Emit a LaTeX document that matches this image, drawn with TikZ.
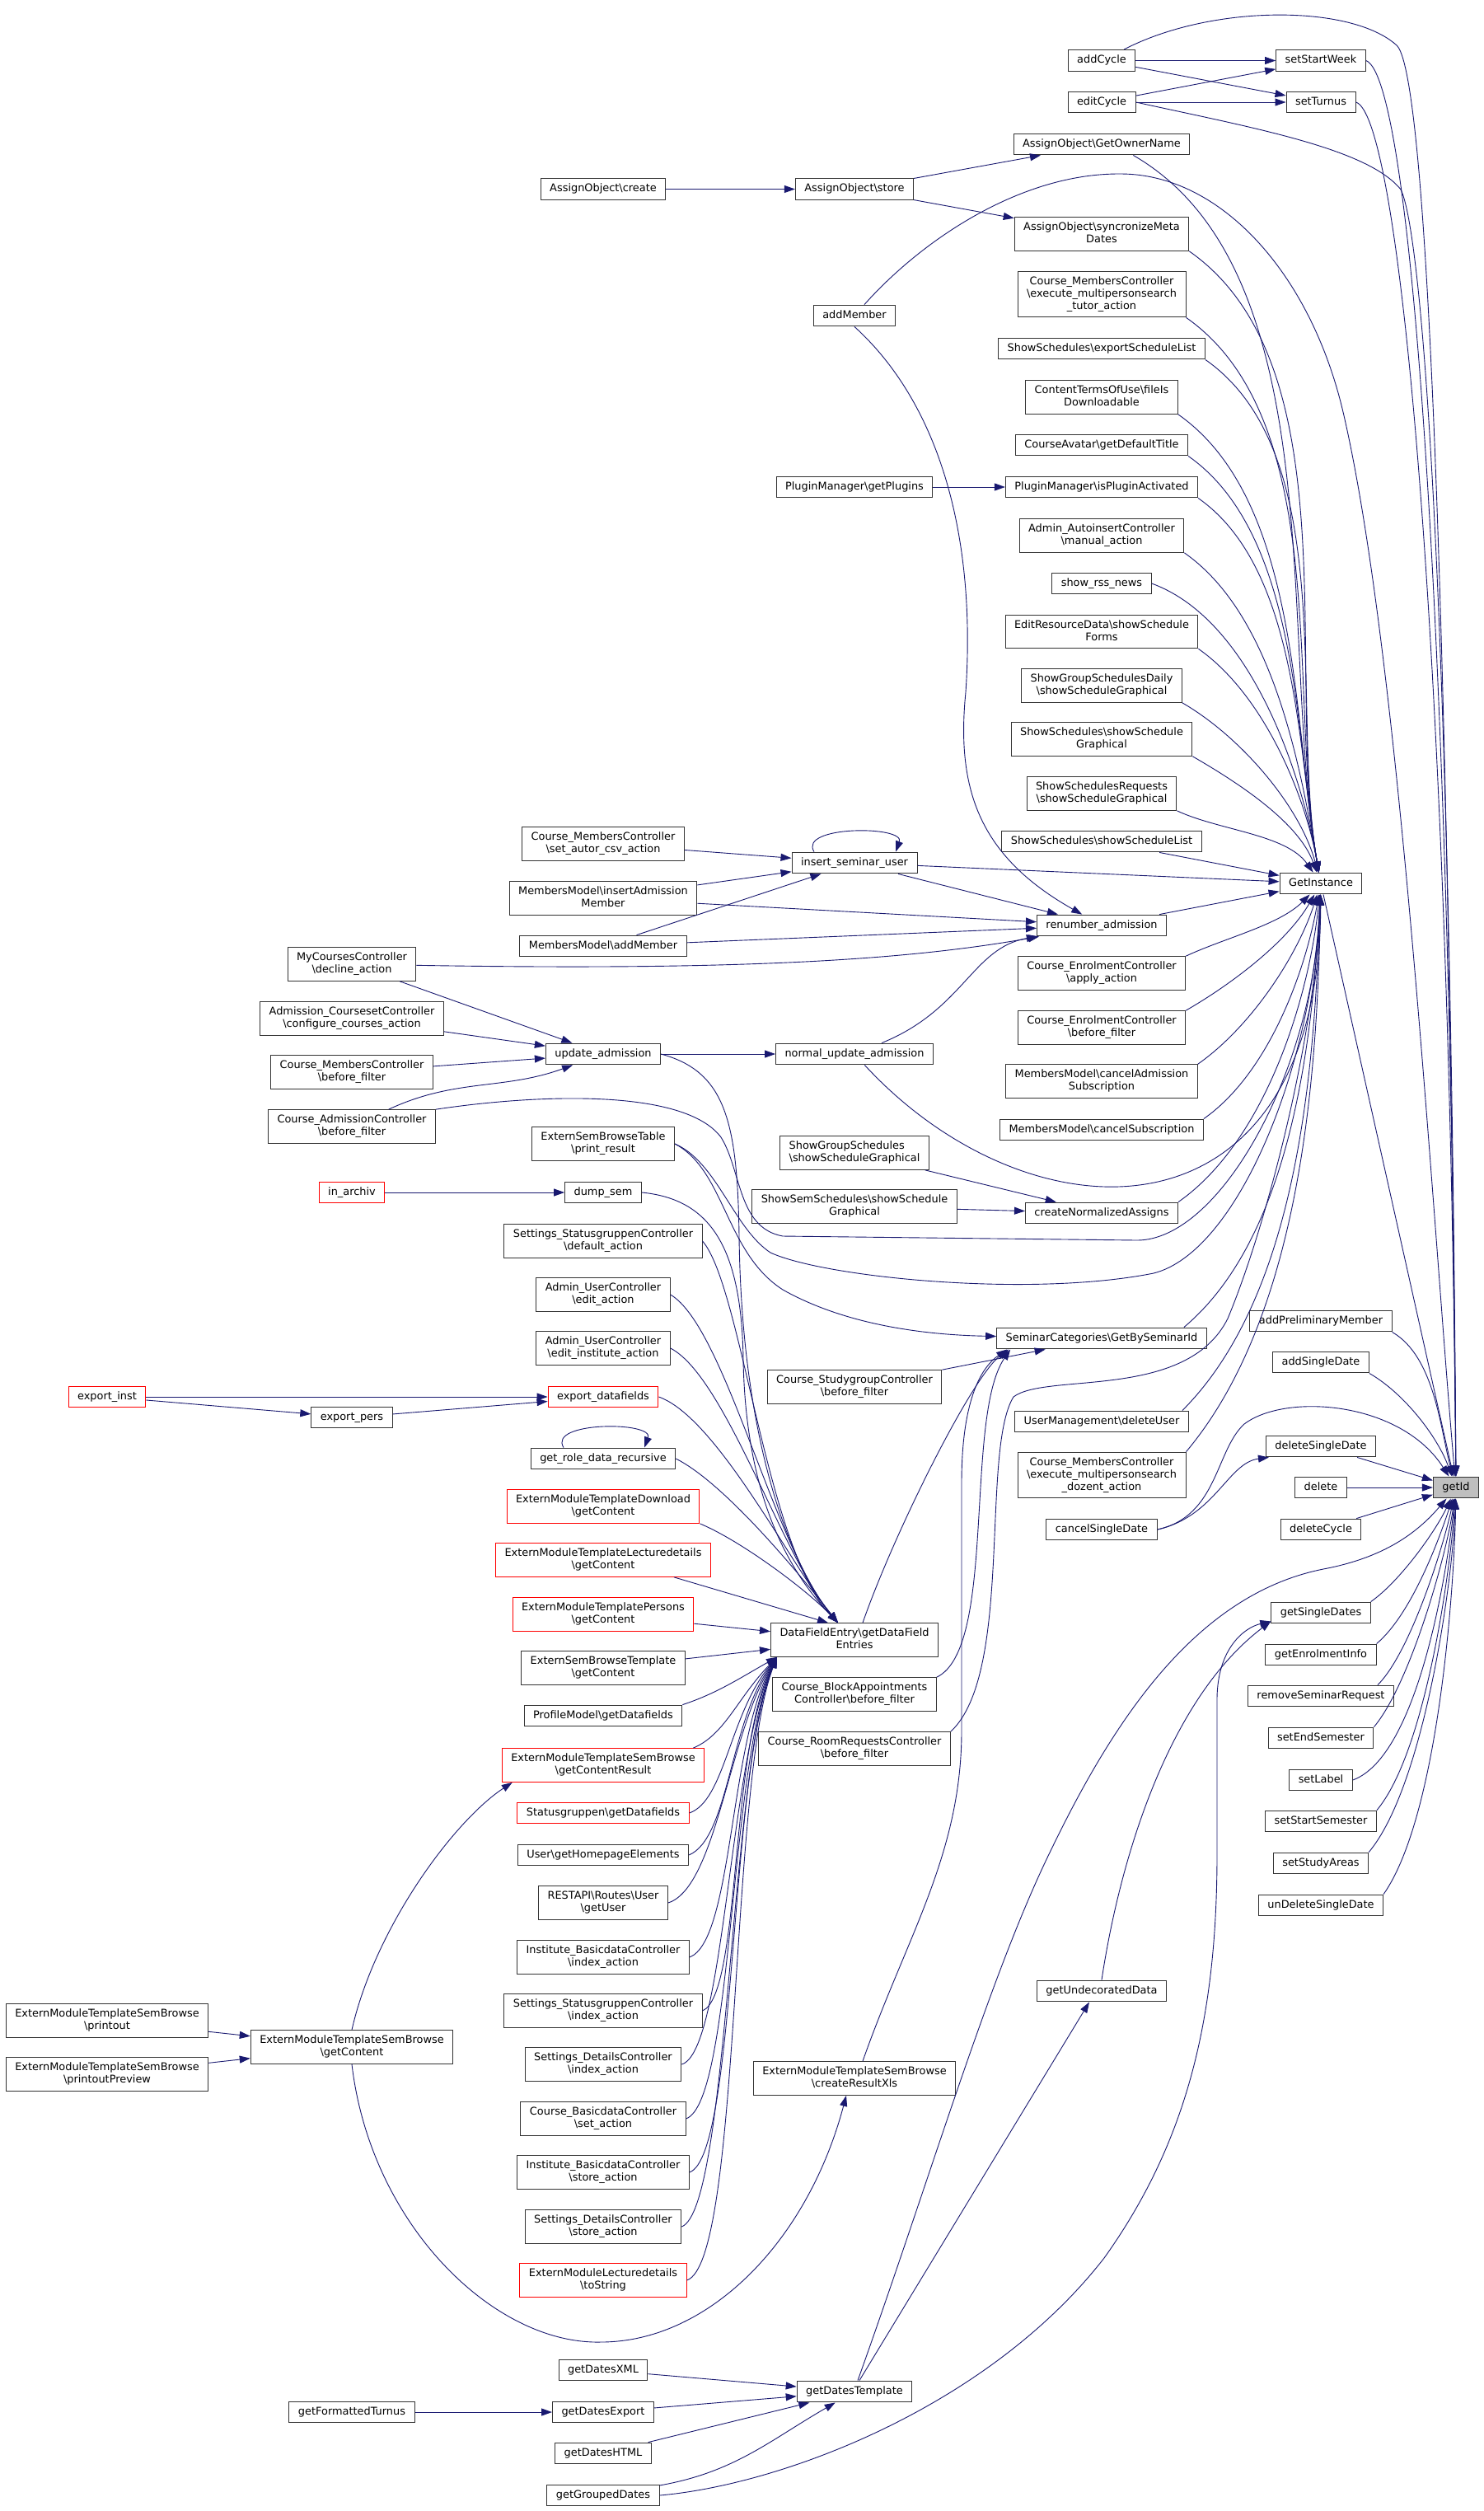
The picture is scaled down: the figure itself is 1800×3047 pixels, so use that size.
\documentclass[tikz,border=0pt]{standalone}
\usepackage{fontspec}
\setmainfont{DejaVu Sans}
\usetikzlibrary{arrows.meta}
\definecolor{callblue}{HTML}{191970}
\newcommand{\bsl}{\textbackslash}
\newcommand{\dxstrut}{\rule[-3.3pt]{0pt}{13.3pt}}
\begin{document}
\begin{tikzpicture}[x=1pt,y=1pt,
    fn/.style={draw=black!80, fill=white, line width=1pt, inner xsep=11pt, inner ysep=6.3pt,
      align=center, font=\fontsize{12.9}{15}\selectfont,
      execute at begin node=\dxstrut, execute at end node=\dxstrut},
    fnred/.style={fn, draw=red},
    fnmain/.style={fn, fill=black!25},
    calls/.style={draw=callblue, line width=0.9pt, -{Triangle[length=13pt,width=9pt]}}]
  \useasboundingbox (0,0) rectangle (1800,-3047);
  \fill[white] (0,0) rectangle (1800,-3047);

  % right columns
  \node[fnmain] (gid) at (1767,-1805) {getId};
  \node[fn] (ssw) at (1603,-73.5) {setStartWeek};
  \node[fn] (stu) at (1603,-124) {setTurnus};
  \node[fn] (gi) at (1603,-1072) {GetInstance};
  \node[fn] (apm) at (1603,-1603) {addPreliminaryMember};
  \node[fn] (asd) at (1603,-1653) {addSingleDate};
  \node[fn] (dsd) at (1603,-1755) {deleteSingleDate};
  \node[fn] (del) at (1603,-1805) {delete};
  \node[fn] (dcy) at (1603,-1856) {deleteCycle};
  \node[fn] (gsd) at (1603,-1957) {getSingleDates};
  \node[fn] (gei) at (1603,-2008) {getEnrolmentInfo};
  \node[fn] (rsr) at (1603,-2058) {removeSeminarRequest};
  \node[fn] (ses) at (1603,-2109) {setEndSemester};
  \node[fn] (slab) at (1603,-2160) {setLabel};
  \node[fn] (sss) at (1603,-2210) {setStartSemester};
  \node[fn] (ssa) at (1603,-2261) {setStudyAreas};
  \node[fn] (uds) at (1603,-2312) {unDeleteSingleDate};

  \node[fn] (ac) at (1337,-73.5) {addCycle};
  \node[fn] (ec) at (1337,-124) {editCycle};
  \node[fn] (gon) at (1337,-175) {AssignObject\bsl GetOwnerName};
  \node[fn] (sync) at (1337,-284) {AssignObject\bsl syncronizeMeta\\Dates};
  \node[fn] (mtut) at (1337,-357) {Course\_MembersController\\\bsl execute\_multipersonsearch\\\_tutor\_action};
  \node[fn] (esl) at (1337,-423) {ShowSchedules\bsl exportScheduleList};
  \node[fn] (ftou) at (1337,-482) {ContentTermsOfUse\bsl fileIs\\Downloadable};
  \node[fn] (cadt) at (1337,-540) {CourseAvatar\bsl getDefaultTitle};
  \node[fn] (pmia) at (1337,-591) {PluginManager\bsl isPluginActivated};
  \node[fn] (aiman) at (1337,-650) {Admin\_AutoinsertController\\\bsl manual\_action};
  \node[fn] (rss) at (1337,-708) {show\_rss\_news};
  \node[fn] (ersf) at (1337,-766.5) {EditResourceData\bsl showSchedule\\Forms};
  \node[fn] (sgsd) at (1337,-832) {ShowGroupSchedulesDaily\\\bsl showScheduleGraphical};
  \node[fn] (sssg) at (1337,-897) {ShowSchedules\bsl showSchedule\\Graphical};
  \node[fn] (ssrg) at (1337,-963) {ShowSchedulesRequests\\\bsl showScheduleGraphical};
  \node[fn] (ssl) at (1337,-1021) {ShowSchedules\bsl showScheduleList};
  \node[fn] (ren) at (1337,-1123) {renumber\_admission};
  \node[fn] (ceapp) at (1337,-1181) {Course\_EnrolmentController\\\bsl apply\_action};
  \node[fn] (cebf) at (1337,-1247) {Course\_EnrolmentController\\\bsl before\_filter};
  \node[fn] (mmcas) at (1337,-1312) {MembersModel\bsl cancelAdmission\\Subscription};
  \node[fn] (mmcs) at (1337,-1371) {MembersModel\bsl cancelSubscription};
  \node[fn] (cna) at (1337,-1472) {createNormalizedAssigns};
  \node[fn] (gbs) at (1337,-1624) {SeminarCategories\bsl GetBySeminarId};
  \node[fn] (du) at (1337,-1725) {UserManagement\bsl deleteUser};
  \node[fn] (mdoz) at (1337,-1790) {Course\_MembersController\\\bsl execute\_multipersonsearch\\\_dozent\_action};
  \node[fn] (csd) at (1337,-1856) {cancelSingleDate};
  \node[fn] (gud) at (1337,-2416) {getUndecoratedData};

  % middle columns
  \node[fn] (aost) at (1037,-229.5) {AssignObject\bsl store};
  \node[fn] (addm) at (1037,-383) {addMember};
  \node[fn] (pmgp) at (1037,-591) {PluginManager\bsl getPlugins};
  \node[fn] (isu) at (1037,-1047) {insert\_seminar\_user};
  \node[fn] (nua) at (1037,-1279) {normal\_update\_admission};
  \node[fn, align=left] (sgsg) at (1037,-1399) {ShowGroupSchedules\\\bsl showScheduleGraphical};
  \node[fn] (sssched) at (1037,-1464) {ShowSemSchedules\bsl showSchedule\\Graphical};
  \node[fn] (sgbf) at (1037,-1683) {Course\_StudygroupController\\\bsl before\_filter};
  \node[fn] (dfe) at (1037,-1990) {DataFieldEntry\bsl getDataField\\Entries};
  \node[fn] (babf) at (1037,-2056) {Course\_BlockAppointments\\Controller\bsl before\_filter};
  \node[fn] (rrbf) at (1037,-2122) {Course\_RoomRequestsController\\\bsl before\_filter};
  \node[fn] (crx) at (1037,-2522) {ExternModuleTemplateSemBrowse\\\bsl createResultXls};
  \node[fn] (gdt) at (1037,-2902) {getDatesTemplate};

  \node[fn] (aocr) at (732,-229.5) {AssignObject\bsl create};
  \node[fn] (csv) at (732,-1024) {Course\_MembersController\\\bsl set\_autor\_csv\_action};
  \node[fn] (mmia) at (732,-1090) {MembersModel\bsl insertAdmission\\Member};
  \node[fn] (mmam) at (732,-1148) {MembersModel\bsl addMember};
  \node[fn] (ua) at (732,-1279) {update\_admission};
  \node[fn] (sbtpr) at (732,-1388) {ExternSemBrowseTable\\\bsl print\_result};
  \node[fn] (dump) at (732,-1447) {dump\_sem};
  \node[fn] (sgdef) at (732,-1506) {Settings\_StatusgruppenController\\\bsl default\_action};
  \node[fn] (aued) at (732,-1571) {Admin\_UserController\\\bsl edit\_action};
  \node[fn] (auei) at (732,-1636) {Admin\_UserController\\\bsl edit\_institute\_action};
  \node[fnred] (edf) at (732,-1695) {export\_datafields};
  \node[fn] (grd) at (732,-1770) {get\_role\_data\_recursive};
  \node[fnred] (emtd) at (732,-1828) {ExternModuleTemplateDownload\\\bsl getContent};
  \node[fnred] (emtl) at (732,-1893) {ExternModuleTemplateLecturedetails\\\bsl getContent};
  \node[fnred] (emtp) at (732,-1959) {ExternModuleTemplatePersons\\\bsl getContent};
  \node[fn] (esbt) at (732,-2024) {ExternSemBrowseTemplate\\\bsl getContent};
  \node[fn] (pmgd) at (732,-2082) {ProfileModel\bsl getDatafields};
  \node[fnred] (gcr) at (732,-2142) {ExternModuleTemplateSemBrowse\\\bsl getContentResult};
  \node[fnred] (sgdf) at (732,-2200) {Statusgruppen\bsl getDatafields};
  \node[fn] (uhe) at (732,-2251) {User\bsl getHomepageElements};
  \node[fn] (rapi) at (732,-2309) {RESTAPI\bsl Routes\bsl User\\\bsl getUser};
  \node[fn] (ibix) at (732,-2375) {Institute\_BasicdataController\\\bsl index\_action};
  \node[fn] (sgix) at (732,-2440) {Settings\_StatusgruppenController\\\bsl index\_action};
  \node[fn] (sdix) at (732,-2505) {Settings\_DetailsController\\\bsl index\_action};
  \node[fn] (cbset) at (732,-2571) {Course\_BasicdataController\\\bsl set\_action};
  \node[fn] (ibst) at (732,-2636) {Institute\_BasicdataController\\\bsl store\_action};
  \node[fn] (sdst) at (732,-2702) {Settings\_DetailsController\\\bsl store\_action};
  \node[fnred] (tostr) at (732,-2767) {ExternModuleLecturedetails\\\bsl toString};
  \node[fn] (gdx) at (732,-2876) {getDatesXML};
  \node[fn] (gdex) at (732,-2927) {getDatesExport};
  \node[fn] (gdh) at (732,-2977) {getDatesHTML};
  \node[fn] (gdg) at (732,-3028) {getGroupedDates};

  % left columns
  \node[fn] (mcdec) at (427,-1170) {MyCoursesController\\\bsl decline\_action};
  \node[fn] (accc) at (427,-1236) {Admission\_CoursesetController\\\bsl configure\_courses\_action};
  \node[fn] (cmbf) at (427,-1301) {Course\_MembersController\\\bsl before\_filter};
  \node[fn] (cacbf) at (427,-1367) {Course\_AdmissionController\\\bsl before\_filter};
  \node[fnred] (inar) at (427,-1447) {in\_archiv};
  \node[fn] (epers) at (427,-1720) {export\_pers};
  \node[fn] (gc) at (427,-2484) {ExternModuleTemplateSemBrowse\\\bsl getContent};
  \node[fn] (gft) at (427,-2927) {getFormattedTurnus};
  \node[fnred] (einst) at (130,-1695) {export\_inst};
  \node[fn] (pout) at (130,-2452) {ExternModuleTemplateSemBrowse\\\bsl printout};
  \node[fn] (pprev) at (130,-2517) {ExternModuleTemplateSemBrowse\\\bsl printoutPreview};

  % short calls
  \draw[calls] (aocr) -- (aost);
  \draw[calls] (aost) -- (gon);
  \draw[calls] (aost) -- (sync);
  \draw[calls] (ac) -- (ssw);
  \draw[calls] (ac) -- (stu);
  \draw[calls] (ec) -- (ssw);
  \draw[calls] (ec) -- (stu);
  \draw[calls] (pmgp) -- (pmia);
  \draw[calls] (csv) -- (isu);
  \draw[calls] (mmia) -- (isu);
  \draw[calls] (mmam) -- (isu);
  \draw[calls] (mmia) -- (ren);
  \draw[calls] (mmam) -- (ren);
  \draw[calls] (mcdec) .. controls (900,-1178) and (1100,-1165) .. (ren);
  \draw[calls] (isu) -- (ren);
  \draw[calls] (isu) -- (gi);
  \draw[calls] ([xshift=-49pt]isu.north) .. controls +(-20,32) and +(12,32) .. ([xshift=50pt]isu.north);
  \draw[calls] (mcdec) -- (ua);
  \draw[calls] (accc) -- (ua);
  \draw[calls] (cmbf) -- (ua);
  \draw[calls] (cacbf) to[out=25,in=-160] (ua);
  \draw[calls] (ua) -- (nua);
  \draw[calls] (nua) .. controls (1170,-1225) and (1180,-1150) .. (ren);
  \draw[calls] (inar) -- (dump);
  \draw[calls] (sgsg) -- (cna);
  \draw[calls] (sssched) -- (cna);
  \draw[calls] (einst) -- (edf);
  \draw[calls] (einst) -- (epers);
  \draw[calls] (epers) -- (edf);
  \draw[calls] ([xshift=-48pt]grd.north) .. controls +(-20,32) and +(12,32) .. ([xshift=50pt]grd.north);
  \draw[calls] (sgbf) -- (gbs);
  \draw[calls] (pout) -- (gc);
  \draw[calls] (pprev) -- (gc);
  \draw[calls] (gdx) -- (gdt);
  \draw[calls] (gdex) -- (gdt);
  \draw[calls] (gdh) -- (gdt);
  \draw[calls] (gdg) to[out=10,in=-150] (gdt);
  \draw[calls] (gft) -- (gdex);
  \draw[calls] ([xshift=6pt]gdt.north) -- ([xshift=-15pt]gud.south);
  \draw[calls] (dsd) -- (gid);
  \draw[calls] (del) -- (gid);
  \draw[calls] (dcy) -- (gid);
  \draw[calls] (gi) -- (gid);

  % into GetInstance
  \draw[calls] ([xshift=-69pt]gon.south east) to[out=-30,in=100,looseness=0.8] (gi);
  \draw[calls] (sync.south east) to[out=-35,in=100,looseness=0.8] (gi);
  \draw[calls] (mtut.south east) to[out=-35,in=100,looseness=0.8] (gi);
  \draw[calls] (esl.south east) to[out=-35,in=100,looseness=0.8] (gi);
  \draw[calls] (ftou.south east) to[out=-35,in=100,looseness=0.8] (gi);
  \draw[calls] (cadt.south east) to[out=-35,in=100,looseness=0.8] (gi);
  \draw[calls] (pmia.south east) to[out=-35,in=100,looseness=0.8] (gi);
  \draw[calls] (aiman.south east) to[out=-35,in=100,looseness=0.8] (gi);
  \draw[calls] (rss.east) to[out=-20,in=100,looseness=0.8] (gi);
  \draw[calls] (ersf.south east) to[out=-35,in=100,looseness=0.8] (gi);
  \draw[calls] (sgsd.south east) to[out=-30,in=105,looseness=0.8] (gi);
  \draw[calls] (sssg.south east) to[out=-30,in=110,looseness=0.8] (gi);
  \draw[calls] (ssrg.south east) to[out=-25,in=125,looseness=0.8] (gi);
  \draw[calls] (ssl) -- (gi);
  \draw[calls] (ren) -- (gi);
  \draw[calls] (ceapp.north east) to[out=25,in=-135,looseness=0.8] (gi);
  \draw[calls] (cebf.north east) to[out=30,in=-120,looseness=0.8] (gi);
  \draw[calls] (mmcas.north east) to[out=35,in=-108,looseness=0.8] (gi);
  \draw[calls] (mmcs.north east) to[out=35,in=-100,looseness=0.8] (gi);
  \draw[calls] (cna.north east) to[out=35,in=-96,looseness=0.8] (gi);
  \draw[calls] ([xshift=-28pt]gbs.north east) to[out=40,in=-93,looseness=0.8] (gi);
  \draw[calls] ([xshift=-8pt]du.north east) to[out=45,in=-92,looseness=0.8] (gi);
  \draw[calls] (mdoz.north east) to[out=50,in=-91,looseness=0.8] (gi);
  \draw[calls] (nua) .. controls (1250,-1510) and (1600,-1520) .. (gi);
  \draw[calls] (cacbf.north east) .. controls (650,-1328) and (830,-1320) .. (875,-1380)
    .. controls (900,-1420) and (895,-1490) .. (950,-1500) -- (1380,-1505)
    .. controls (1480,-1505) and (1595,-1300) .. (gi);
  \draw[calls] (sbtpr.east) .. controls (870,-1410) and (890,-1490) .. (935,-1520)
    .. controls (1000,-1550) and (1250,-1575) .. (1400,-1545)
    .. controls (1500,-1520) and (1592,-1300) .. (gi);
  \draw[calls] (rrbf.north east) .. controls (1230,-2030) and (1190,-1760) .. (1230,-1695)
    .. controls (1270,-1665) and (1440,-1700) .. (1490,-1600)
    .. controls (1540,-1480) and (1597,-1250) .. (gi);

  % into SeminarCategories
  \draw[calls] (sbtpr.east) .. controls (880,-1420) and (880,-1520) .. (950,-1565)
    .. controls (1030,-1610) and (1130,-1620) .. (gbs);
  \draw[calls] ([xshift=10pt]dfe.north) .. controls (1085,-1860) and (1180,-1670) .. ([xshift=15pt]gbs.south west);
  \draw[calls] (babf.north east) .. controls (1210,-2000) and (1170,-1720) .. ([xshift=17pt]gbs.south west);
  \draw[calls] ([xshift=10pt]crx.north) .. controls (1100,-2350) and (1167,-2250) .. (1167,-2100)
    -- (1167,-1800) .. controls (1167,-1700) and (1190,-1660) .. ([xshift=13pt]gbs.south west);

  % into DataFieldEntry
  \draw[calls] (ua.east) .. controls (880,-1300) and (895,-1360) .. (897,-1500)
    .. controls (900,-1750) and (960,-1900) .. ([xshift=-20pt]dfe.north);
  \draw[calls] (dump.east) .. controls (860,-1455) and (900,-1510) .. (902,-1650)
    .. controls (905,-1820) and (960,-1910) .. ([xshift=-20pt]dfe.north);
  \draw[calls] (sgdef.east) .. controls (900,-1560) and (930,-1880) .. ([xshift=-20pt]dfe.north);
  \draw[calls] (aued.east) .. controls (880,-1610) and (940,-1880) .. ([xshift=-20pt]dfe.north);
  \draw[calls] (auei.east) .. controls (880,-1670) and (950,-1890) .. ([xshift=-20pt]dfe.north);
  \draw[calls] (edf.east) .. controls (870,-1720) and (960,-1900) .. ([xshift=-20pt]dfe.north);
  \draw[calls] (grd.east) .. controls (880,-1800) and (970,-1910) .. ([xshift=-20pt]dfe.north);
  \draw[calls] (emtd.south east) .. controls (900,-1870) and (980,-1930) .. ([xshift=-20pt]dfe.north);
  \draw[calls] ([xshift=-45pt]emtl.south east) -- ([xshift=-32pt]dfe.north);
  \draw[calls] (emtp) -- (dfe);
  \draw[calls] (esbt) -- (dfe);
  \draw[calls] (pmgd.north east) .. controls (870,-2055) and (900,-2035) .. ([xshift=8pt]dfe.south west);
  \draw[calls] ([xshift=-14pt]gcr.north east) .. controls (880,-2105) and (895,-2060) .. ([xshift=8pt]dfe.south west);
  \draw[calls] (sgdf.east) .. controls (880,-2185) and (885,-2080) .. ([xshift=8pt]dfe.south west);
  \draw[calls] (uhe.east) .. controls (885,-2230) and (885,-2090) .. ([xshift=8pt]dfe.south west);
  \draw[calls] (rapi.east) .. controls (870,-2290) and (885,-2100) .. ([xshift=8pt]dfe.south west);
  \draw[calls] (ibix.east) .. controls (890,-2355) and (885,-2110) .. ([xshift=8pt]dfe.south west);
  \draw[calls] (sgix.east) .. controls (900,-2420) and (885,-2120) .. ([xshift=8pt]dfe.south west);
  \draw[calls] (sdix.east) .. controls (880,-2490) and (885,-2130) .. ([xshift=8pt]dfe.south west);
  \draw[calls] (cbset.east) .. controls (890,-2550) and (885,-2140) .. ([xshift=8pt]dfe.south west);
  \draw[calls] (ibst.east) .. controls (895,-2615) and (885,-2145) .. ([xshift=8pt]dfe.south west);
  \draw[calls] (sdst.east) .. controls (885,-2680) and (885,-2150) .. ([xshift=8pt]dfe.south west);
  \draw[calls] (tostr.east) .. controls (900,-2745) and (885,-2160) .. ([xshift=8pt]dfe.south west);

  % ExternModuleTemplateSemBrowse
  \draw[calls] (gc.north) .. controls (455,-2340) and (550,-2210) .. ([xshift=13pt]gcr.south west);
  \draw[calls] (gc.south) .. controls (450,-2700) and (600,-2845) .. (729,-2842)
    .. controls (860,-2842) and (980,-2720) .. ([xshift=-10pt]crx.south);

  % dates
  \draw[calls] (gud.north) .. controls (1360,-2250) and (1420,-2060) .. ([yshift=3pt]gsd.south west);
  \draw[calls] (gdg.east) .. controls (950,-3015) and (1200,-2920) .. (1340,-2740)
    .. controls (1440,-2600) and (1477,-2450) .. (1477,-2250) -- (1477,-2060)
    .. controls (1478,-2000) and (1510,-1975) .. ([yshift=3pt]gsd.south west);
  \draw[calls] ([xshift=4pt]gdt.north) .. controls (1130,-2640) and (1200,-2400) .. (1274,-2248)
    .. controls (1350,-2090) and (1450,-1935) .. (1606,-1904)
    .. controls (1680,-1890) and (1720,-1860) .. (gid);
  \draw[calls] (csd.east) .. controls (1475,-1840) and (1490,-1775) .. ([xshift=4pt]dsd.south west);
  \draw[calls] (csd.east) .. controls (1478,-1840) and (1475,-1760) .. (1510,-1728)
    .. controls (1560,-1690) and (1700,-1700) .. (gid);

  % into getId from the right column
  \draw[calls] (apm.south east) to[out=-30,in=105,looseness=0.8] (gid);
  \draw[calls] (asd.south east) to[out=-30,in=110,looseness=0.8] (gid);
  \draw[calls] (gsd.north east) to[out=35,in=-115,looseness=0.7] (gid);
  \draw[calls] (gei.north east) to[out=40,in=-108,looseness=0.7] (gid);
  \draw[calls] ([xshift=-20pt]rsr.north east) to[out=45,in=-102,looseness=0.6] (gid);
  \draw[calls] (ses.north east) to[out=50,in=-98,looseness=0.6] (gid);
  \draw[calls] (slab.east) to[out=20,in=-96,looseness=0.6] (gid);
  \draw[calls] (sss.north east) to[out=50,in=-94,looseness=0.6] (gid);
  \draw[calls] (ssa.north east) to[out=50,in=-92,looseness=0.6] (gid);
  \draw[calls] (uds.north east) to[out=55,in=-91,looseness=0.6] (gid);

  % long calls over the top
  \draw[calls] (ssw.east) .. controls (1715,-95) and (1760,-800) .. (gid);
  \draw[calls] (stu.east) .. controls (1700,-140) and (1758,-800) .. (gid);
  \draw[calls] ([xshift=27pt]ac.north) .. controls (1470,-5) and (1640,-5) .. (1695,-55)
    .. controls (1728,-85) and (1755,-600) .. (gid);
  \draw[calls] (ec.east) .. controls (1520,-155) and (1660,-180) .. (1700,-230)
    .. controls (1725,-280) and (1760,-700) .. (gid);
  \draw[calls] ([xshift=12pt]addm.north) .. controls (1120,-290) and (1240,-210) .. (1360,-211)
    .. controls (1480,-211) and (1590,-330) .. (1630,-500)
    .. controls (1700,-800) and (1740,-1500) .. (gid);
  \draw[calls] (addm.south) .. controls (1140,-490) and (1185,-650) .. (1172,-840)
    .. controls (1160,-960) and (1190,-1040) .. (ren);
\end{tikzpicture}
\end{document}
